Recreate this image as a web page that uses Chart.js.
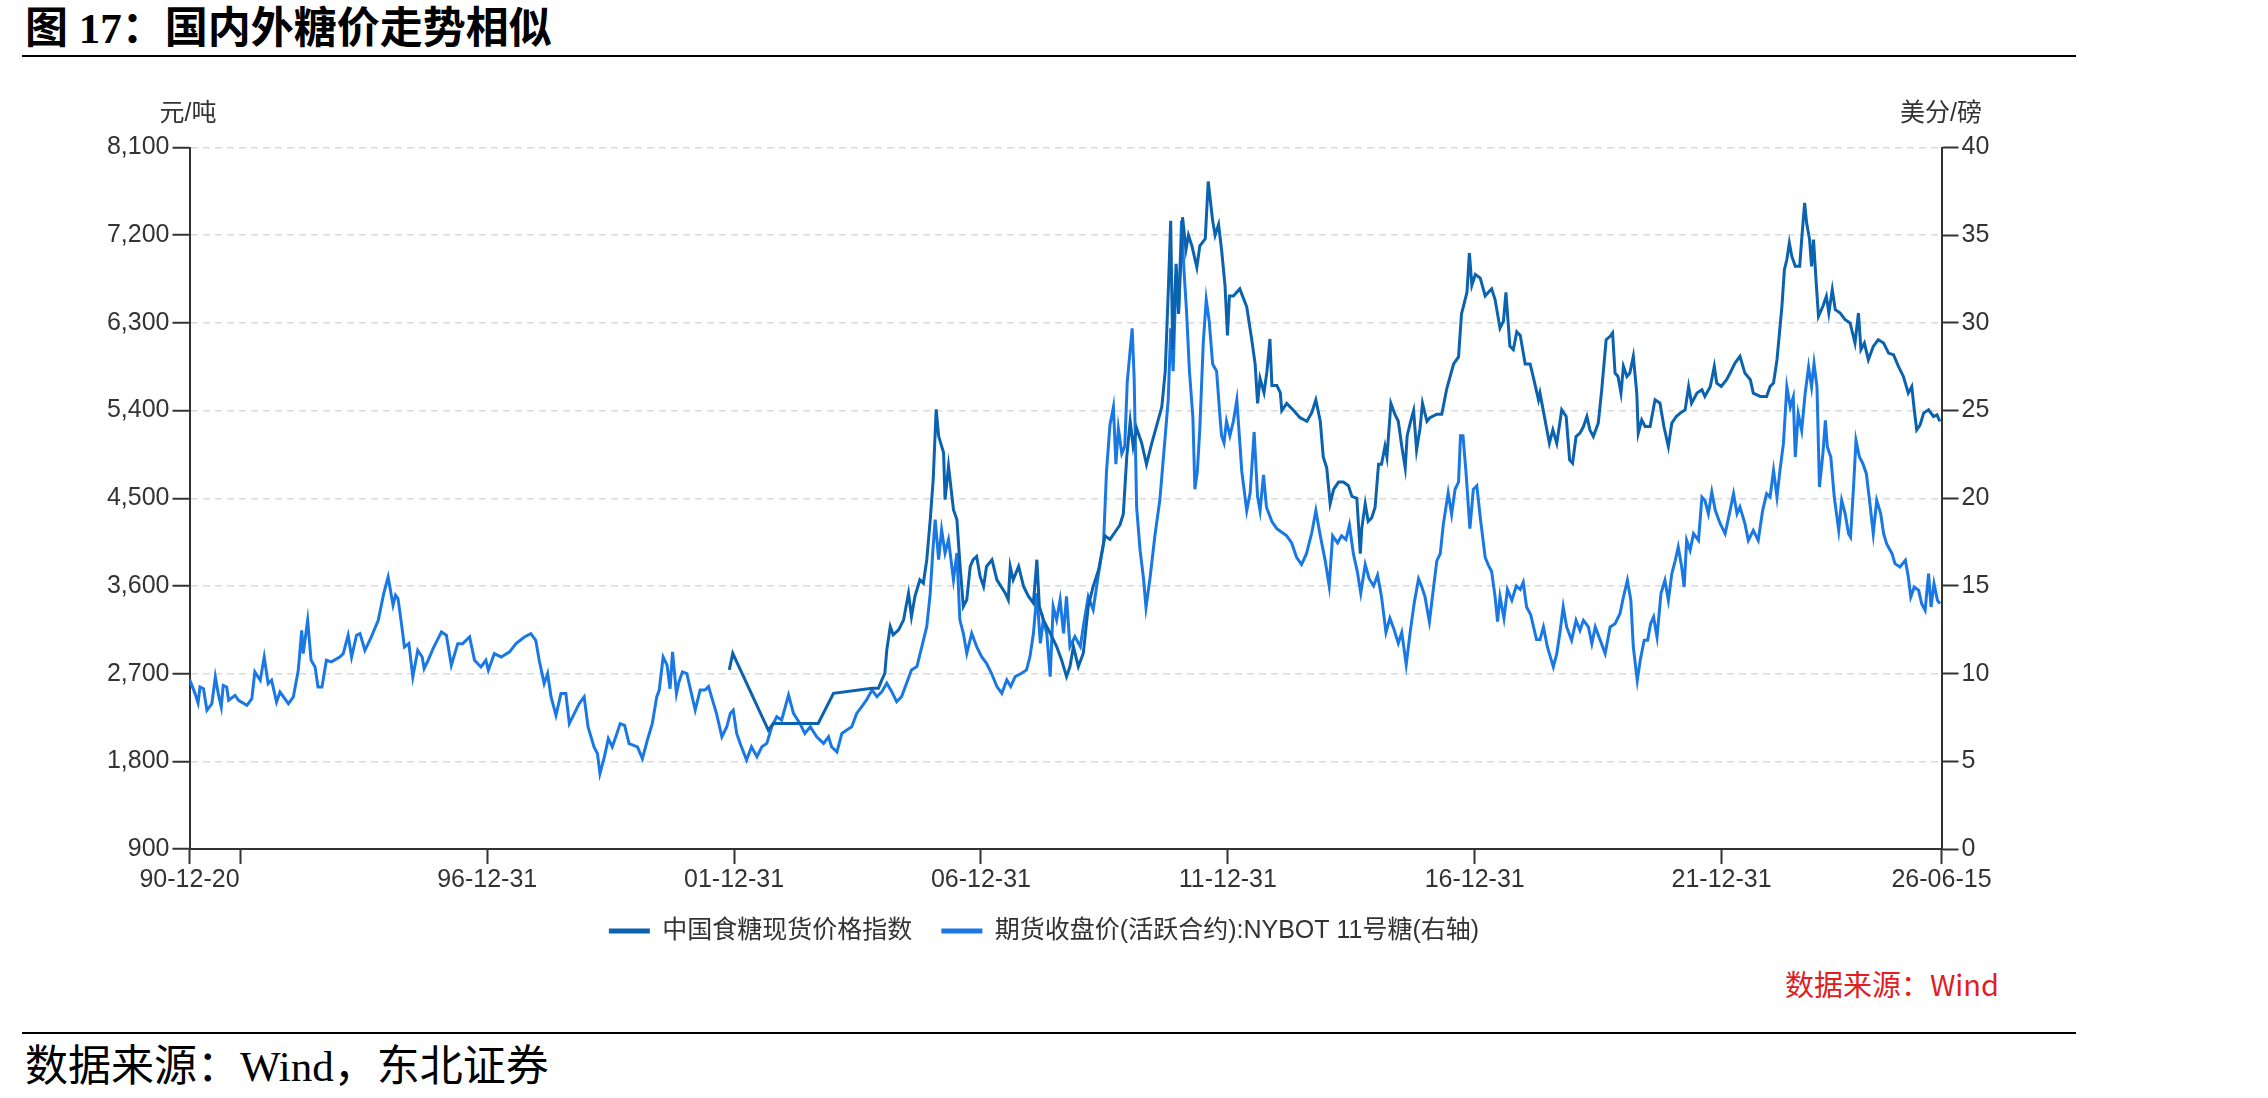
<!DOCTYPE html>
<html>
<head>
<meta charset="utf-8">
<script src="https://cdn.jsdelivr.net/npm/chart.js@4.4.1/dist/chart.umd.min.js"></script>
<style>
html,body{margin:0;padding:0;background:#fff;}
#page{position:relative;width:2268px;height:1098px;overflow:hidden;background:#fff;}
#chartBox{position:absolute;left:0;top:0;width:2268px;height:960px;}
.title{position:absolute;left:25px;top:6px;font-weight:bold;font-size:43px;font-family:"Liberation Serif","Noto Sans CJK SC",serif;color:#000;line-height:46px;white-space:nowrap;}
.rule{position:absolute;left:22px;width:2054px;height:2px;background:#000;}
.foot{position:absolute;left:25px;top:1044px;font-size:43px;font-family:"Liberation Serif","Noto Sans CJK SC",serif;color:#000;line-height:46px;white-space:nowrap;}
.unit{position:absolute;font-size:25px;font-family:"Liberation Sans","Noto Sans CJK SC",sans-serif;color:#333;line-height:30px;transform:translate(-50%,-50%);white-space:nowrap;}
.src{position:absolute;font-size:29px;font-family:"Noto Sans CJK SC",sans-serif;color:#e0201f;line-height:34px;white-space:nowrap;transform:translate(-100%,-50%);}
</style>
</head>
<body>
<div id="page">
  <div class="title">图 17：国内外糖价走势相似</div>
  <div class="rule" style="top:55px"></div>
  <div id="chartBox"><canvas id="c"></canvas></div>
  <div class="unit" style="left:188px;top:112px">元/吨</div>
  <div class="unit" style="left:1941px;top:112px">美分/磅</div>
  <div class="src" style="left:1999px;top:983px">数据来源：Wind</div>
  <div class="rule" style="top:1032px"></div>
  <div class="foot">数据来源：Wind，东北证券</div>
</div>
<script>
// ---- data (x in decimal years) ----
const seriesNames = ['中国食糖现货价格指数', '期货收盘价(活跃合约):NYBOT 11号糖(右轴)'];

const cnYears = [2001.90,2001.97,2002.69,2002.79,2003.70,2004.01,2004.79,2004.92,2004.99,2005.05,2005.09,2005.16,2005.22,2005.33,2005.43,2005.53,2005.59,2005.66,2005.76,2005.83,2005.90,2005.97,2006.03,2006.09,2006.14,2006.24,2006.27,2006.34,2006.44,2006.51,2006.57,2006.64,2006.71,2006.78,2006.84,2006.91,2006.98,2007.05,2007.11,2007.22,2007.32,2007.49,2007.55,2007.59,2007.65,2007.76,2007.86,2007.96,2008.06,2008.13,2008.18,2008.26,2008.40,2008.53,2008.63,2008.73,2008.80,2008.87,2008.97,2009.07,2009.17,2009.27,2009.38,
2009.51,2009.61,2009.71,2009.81,2009.88,2009.95,2010.02,2010.08,2010.15,2010.25,2010.35,2010.46,2010.56,2010.66,2010.73,2010.79,2010.84,2010.88,2010.95,2011.00,2011.08,2011.15,2011.20,2011.27,2011.37,2011.43,2011.54,2011.60,2011.69,2011.74,2011.81,2011.87,2011.94,2011.99,2012.03,2012.11,2012.24,2012.38,2012.48,2012.55,2012.60,2012.65,2012.73,2012.79,2012.85,2012.89,2012.99,2013.06,2013.09,2013.19,2013.33,2013.46,2013.60,2013.70,2013.78,2013.87,2013.93,2014.00,2014.07,2014.14,2014.24,2014.34,2014.44,2014.51,2014.61,2014.68,2014.71,2014.78,2014.84,2014.91,2014.98,2015.05,2015.11,2015.18,2015.22,2015.30,2015.38,2015.45,2015.52,2015.59,2015.63,2015.70,2015.76,2015.82,2015.89,2015.94,2016.03,2016.09,2016.23,2016.33,2016.43,2016.57,2016.67,2016.73,2016.84,2016.89,2016.94,2017.01,2017.11,2017.21,2017.27,2017.34,2017.41,2017.51,2017.58,2017.63,2017.71,2017.78,2017.85,2017.92,2018.02,2018.12,2018.19,2018.29,
2018.32,2018.46,2018.51,2018.58,2018.66,2018.76,2018.85,2018.92,2018.98,2019.05,2019.13,2019.20,2019.27,2019.33,2019.40,2019.50,2019.57,2019.66,2019.74,2019.79,2019.84,2019.90,2019.96,2020.01,2020.08,2020.14,2020.21,2020.28,2020.31,2020.38,2020.45,2020.55,2020.65,2020.75,2020.83,2020.92,2020.99,2021.08,2021.16,2021.26,2021.33,2021.39,2021.50,2021.60,2021.66,2021.77,2021.85,2021.90,2021.99,2022.10,2022.17,2022.27,2022.37,2022.47,2022.58,2022.64,2022.78,2022.91,2022.98,2023.05,2023.12,2023.17,2023.22,2023.27,2023.32,2023.37,2023.42,2023.49,2023.58,2023.62,2023.68,2023.72,2023.78,2023.82,2023.86,2023.91,2023.96,2024.05,2024.12,2024.17,2024.24,2024.30,2024.40,2024.50,2024.60,2024.70,2024.77,2024.82,2024.89,2024.97,2025.07,2025.17,2025.28,2025.38,2025.48,2025.58,2025.68,2025.78,2025.85,2025.90,2025.95,2026.02,2026.09,2026.19,2026.29,2026.36,2026.42];
const cnPrices = [2738,2909,2121,2189,2189,2498,2549,2549,2635,2703,2943,3183,3098,3149,3252,3526,3286,3492,3663,3629,3869,4281,4692,5412,5138,4966,4486,4829,4383,4281,3835,3389,3458,3800,3869,3903,3698,3595,3800,3869,3663,3526,3458,3800,3663,3800,3595,3492,3423,3869,3389,3252,3115,2978,2841,2669,2772,2978,2772,2909,3389,3595,3766,
4115,4078,4151,4225,4335,4923,5290,5033,5217,5070,4849,5070,5253,5437,5804,6612,7347,6025,6906,6392,7384,7053,7200,7090,6869,7090,7163,7751,7347,7200,7310,7053,6686,6172,6576,6576,6649,6465,6135,5878,5474,5731,5584,5804,6135,5657,5657,5584,5400,5474,5400,5327,5290,5382,5510,5290,4923,4812,4445,4592,4666,4666,4629,4519,4500,3931,4188,4445,4262,4298,4408,4849,4849,5033,4923,5474,5363,5290,5033,4812,5143,5290,5400,4996,5217,5474,5290,5327,5363,5363,5621,5878,5951,6392,6612,7016,6686,6796,6759,6576,6612,6649,6539,6245,6318,6612,6061,6025,6208,6172,5878,5878,5731,5510,
5579,5200,5065,5202,5065,5408,5339,4894,4859,5134,5168,5236,5339,5202,5134,5271,5613,6127,6162,6196,5785,5750,5579,5853,5750,5785,5956,5579,5168,5305,5236,5236,5510,5476,5236,5031,5271,5339,5374,5408,5647,5476,5579,5613,5545,5647,5853,5682,5647,5716,5785,5887,5956,5785,5716,5579,5545,5545,5647,5682,5922,6196,6470,6847,6950,7121,6984,6881,6881,7155,7532,7327,7155,6881,7155,6744,6367,6470,6573,6401,6641,6436,6401,6333,6299,6093,6401,6025,6093,5922,6059,6127,6093,5990,5973,5853,5750,5579,5647,5408,5202,5254,5374,5408,5339,5356,5288];

const nyYears = [1990.97,1991.08,1991.14,1991.18,1991.25,1991.32,1991.42,1991.49,1991.55,1991.61,1991.65,1991.72,1991.76,1991.89,1991.96,1992.13,1992.23,1992.29,1992.40,1992.48,1992.56,1992.63,1992.73,1992.80,1992.97,1993.07,1993.17,1993.24,1993.27,1993.36,1993.43,1993.51,1993.57,1993.65,1993.74,1993.84,1994.01,1994.08,1994.18,1994.25,1994.35,1994.42,1994.52,1994.65,1994.72,1994.79,1994.90,1994.99,1995.09,1995.14,1995.19,1995.26,1995.32,1995.41,1995.49,1995.59,1995.68,1995.72,1995.80,1995.90,1996.07,1996.17,1996.27,1996.40,1996.50,1996.64,1996.74,1996.87,1996.97,1997.02,1997.14,1997.28,1997.45,1997.58,1997.75,1997.88,1997.98,1998.05,1998.15,1998.22,1998.29,1998.39,1998.49,1998.59,1998.66,1998.76,1998.86,1998.96,1999.04,1999.16,1999.23,1999.28,1999.37,1999.45,1999.53,1999.60,1999.69,1999.78,1999.87,2000.04,2000.14,2000.24,2000.34,2000.43,2000.48,2000.56,2000.64,2000.70,2000.75,2000.83,2000.88,2000.95,2001.04,
2001.21,2001.31,2001.41,2001.48,2001.58,2001.64,2001.75,2001.85,2001.92,2001.98,2002.05,2002.12,2002.25,2002.35,2002.46,2002.56,2002.66,2002.76,2002.86,2002.96,2003.10,2003.20,2003.33,2003.43,2003.54,2003.67,2003.81,2003.91,2003.97,2004.08,2004.18,2004.28,2004.38,2004.48,2004.58,2004.68,2004.79,2004.89,2004.99,2005.09,2005.19,2005.29,2005.39,2005.49,2005.59,2005.70,2005.80,2005.90,2005.97,2006.02,2006.07,2006.14,2006.20,2006.27,2006.34,2006.44,2006.51,2006.57,2006.64,2006.71,2006.81,2006.91,2007.01,2007.11,2007.21,2007.32,2007.42,2007.52,2007.60,2007.69,2007.82,2007.92,2007.99,2008.06,2008.13,2008.20,2008.26,2008.33,2008.40,2008.46,2008.53,2008.60,2008.67,2008.73,2008.80,2008.90,2009.01,2009.07,2009.17,2009.27,2009.38,
2009.48,2009.54,2009.61,2009.68,2009.73,2009.78,2009.85,2009.91,2009.96,2010.02,2010.06,2010.10,2010.15,2010.22,2010.29,2010.34,2010.42,2010.52,2010.62,2010.73,2010.79,2010.84,2010.89,2010.95,2011.00,2011.06,2011.11,2011.16,2011.22,2011.29,2011.33,2011.38,2011.43,2011.50,2011.56,2011.62,2011.69,2011.77,2011.84,2011.87,2011.92,2011.97,2012.04,2012.11,2012.18,2012.23,2012.28,2012.38,2012.45,2012.53,2012.60,2012.65,2012.72,2012.78,2012.89,2012.99,2013.09,2013.19,2013.29,2013.39,2013.49,2013.59,2013.70,2013.78,2013.87,2013.97,2014.05,2014.12,2014.22,2014.30,2014.39,2014.46,2014.54,2014.62,2014.69,2014.78,2014.86,2014.95,2015.03,2015.11,2015.20,2015.28,2015.36,2015.45,2015.52,2015.61,2015.69,2015.77,2015.86,2015.92,2015.99,2016.08,2016.15,2016.23,2016.30,2016.36,2016.46,2016.53,2016.60,2016.67,2016.71,2016.76,2016.82,2016.90,2016.97,2017.04,2017.12,2017.21,2017.27,2017.34,2017.41,2017.46,2017.51,2017.59,2017.66,2017.75,2017.84,2017.92,2017.98,2018.05,2018.13,2018.25,
2018.32,2018.39,2018.47,2018.59,2018.66,2018.73,2018.79,2018.86,2018.96,2019.05,2019.13,2019.20,2019.30,2019.37,2019.44,2019.54,2019.64,2019.74,2019.84,2019.94,2020.01,2020.09,2020.16,2020.21,2020.29,2020.35,2020.43,2020.50,2020.56,2020.62,2020.69,2020.77,2020.85,2020.92,2020.99,2021.06,2021.12,2021.19,2021.24,2021.29,2021.36,2021.43,2021.53,2021.60,2021.66,2021.73,2021.80,2021.87,2021.97,2022.07,2022.17,2022.24,2022.31,2022.37,2022.47,2022.54,2022.64,2022.74,2022.83,2022.91,2022.98,2023.05,2023.12,2023.18,2023.25,2023.32,2023.39,2023.45,2023.49,2023.55,2023.62,2023.69,2023.76,2023.82,2023.87,2023.93,2023.98,2024.05,2024.10,2024.14,2024.21,2024.28,2024.37,2024.43,2024.50,2024.57,2024.61,2024.67,2024.72,2024.79,2024.86,2024.93,2025.01,2025.07,2025.14,2025.22,2025.28,2025.34,2025.45,2025.51,2025.61,2025.72,2025.78,2025.83,2025.90,2025.99,2026.05,2026.12,2026.19,2026.24,2026.30,2026.37,2026.42];
const nyPrices = [9.66,8.86,8.33,9.24,9.14,7.91,8.29,9.81,8.86,8.10,9.33,9.24,8.48,8.76,8.48,8.19,8.57,10.10,9.62,10.95,9.43,9.62,8.38,8.95,8.29,8.67,10.19,12.47,11.14,13.04,10.76,10.38,9.24,9.24,10.76,10.67,10.95,11.14,12.19,10.95,12.19,12.28,11.33,12.09,12.57,13.04,14.56,15.51,13.90,14.47,14.28,12.85,11.52,11.71,9.81,11.33,10.95,10.29,10.76,11.43,12.38,12.19,10.48,11.71,11.71,12.09,10.76,10.38,10.76,10.19,11.14,10.95,11.24,11.71,12.09,12.28,11.90,10.76,9.43,10.00,8.67,7.62,8.86,8.86,7.15,7.72,8.29,8.67,6.96,5.82,5.44,4.30,5.25,6.29,5.82,6.39,7.15,7.05,6.01,5.82,5.15,6.20,7.15,8.67,9.05,10.95,10.48,9.14,11.24,8.86,9.52,10.10,10.00,
7.92,9.07,9.07,9.26,8.30,7.73,6.40,6.97,7.73,7.92,6.59,6.02,5.07,5.83,5.26,5.83,6.02,6.97,7.54,7.35,8.78,7.73,7.16,6.59,6.97,6.40,6.02,6.40,5.83,5.54,6.59,6.78,6.97,7.73,8.11,8.50,9.07,8.69,8.97,9.45,8.97,8.40,8.69,9.45,10.21,10.40,11.54,12.69,14.59,16.88,18.78,16.50,18.21,16.88,17.64,15.35,16.88,13.07,12.30,11.16,12.30,11.54,10.97,10.59,10.02,9.26,8.88,9.64,9.26,9.83,10.02,10.21,10.97,12.30,14.59,11.73,13.07,12.30,9.83,13.83,13.07,14.21,12.30,14.40,11.54,12.11,11.54,12.69,14.40,13.64,15.73,
17.45,21.53,24.18,25.20,21.94,23.98,22.55,22.96,26.63,28.47,29.69,26.84,19.49,17.04,15.41,13.78,15.41,17.86,19.90,23.57,25.61,29.69,27.24,32.76,30.71,35.82,32.96,30.71,27.24,24.59,20.51,21.53,23.98,28.88,31.33,30.10,27.65,27.24,24.59,23.57,23.16,24.39,23.57,24.39,25.61,23.57,21.53,19.29,20.31,23.78,20.10,19.29,21.33,19.49,18.67,18.27,18.06,17.86,17.45,16.63,16.22,16.84,18.06,19.29,17.86,16.43,15.00,17.86,17.45,17.86,17.65,18.47,16.84,15.82,14.59,16.22,15.41,15.00,15.61,14.39,12.35,13.16,12.55,11.73,12.35,10.51,12.35,13.98,15.41,15.00,14.39,12.96,14.59,16.43,16.84,18.47,20.31,19.08,20.51,20.92,23.57,23.57,21.53,18.27,20.51,20.71,18.67,16.63,16.22,15.82,14.39,12.96,14.39,13.16,14.80,14.18,15.00,14.80,15.20,13.78,13.37,11.94,
11.94,12.66,11.52,10.38,11.14,12.47,13.80,12.66,11.90,13.04,12.47,13.04,12.66,11.71,12.66,11.90,11.14,12.66,12.85,13.42,14.37,15.32,14.18,11.52,9.61,10.76,11.90,11.90,12.85,13.23,12.09,14.56,15.32,14.18,15.70,16.46,17.22,16.08,14.94,17.60,17.03,17.98,17.60,20.07,19.88,19.12,20.36,19.31,18.55,17.98,19.31,20.26,19.12,19.50,18.55,17.60,18.17,17.60,19.31,20.26,20.07,21.59,20.07,21.59,23.11,26.35,25.20,25.77,22.35,24.82,23.87,25.96,27.49,26.35,27.68,26.35,20.64,22.54,24.44,22.92,22.35,20.07,18.17,19.88,19.12,17.98,17.79,20.64,23.30,22.35,21.97,21.40,19.50,17.98,19.88,19.12,17.98,17.41,16.84,16.27,16.08,16.46,15.51,14.37,14.94,14.75,13.99,13.61,15.70,13.80,15.13,14.18,13.99];

const xTickYears = [1990.967, 1991.997, 1996.997, 2001.997, 2006.997, 2011.997, 2016.997, 2021.997, 2026.452];
const xTickLabels = ['90-12-20', '', '96-12-31', '01-12-31', '06-12-31', '11-12-31', '16-12-31', '21-12-31', '26-06-15'];
const leftTicks = [900, 1800, 2700, 3600, 4500, 5400, 6300, 7200, 8100];
const rightTicks = [0, 5, 10, 15, 20, 25, 30, 35, 40];

// ---- build ----
const FONT = "'Liberation Sans','Noto Sans CJK SC',sans-serif";
const toPoints = (xs, ys) => xs.slice(0, Math.min(xs.length, ys.length)).map((x, i) => ({x: x, y: ys[i]}));
const darkBlue = '#0b62ae';
const brightBlue = '#1a78e4';

new Chart(document.getElementById('c'), {
  type: 'line',
  data: {
    datasets: [
      {label: seriesNames[0], data: toPoints(cnYears, cnPrices), yAxisID: 'y', borderColor: darkBlue, backgroundColor: darkBlue, borderWidth: 3, pointRadius: 0, tension: 0},
      {label: seriesNames[1], data: toPoints(nyYears, nyPrices), yAxisID: 'y1', borderColor: brightBlue, backgroundColor: brightBlue, borderWidth: 3, pointRadius: 0, tension: 0}
    ]
  },
  options: {
    responsive: true,
    maintainAspectRatio: false,
    animation: false,
    devicePixelRatio: 1,
    layout: {padding: {top: 147.5, left: 0, right: 180, bottom: 6.5}},
    plugins: {
      tooltip: {enabled: false},
      legend: {
        position: 'bottom',
        labels: {
          font: {family: FONT, size: 25},
          color: '#333',
          boxWidth: 41,
          boxHeight: 5,
          padding: 29,
          generateLabels: (chart) => Chart.defaults.plugins.legend.labels.generateLabels(chart).map(l => Object.assign(l, {lineWidth: 0}))
        }
      }
    },
    scales: {
      x: {
        type: 'linear',
        min: xTickYears[0],
        max: xTickYears[xTickYears.length - 1],
        afterBuildTicks: (s) => { s.ticks = xTickYears.map(v => ({value: v})); },
        afterFit: (s) => { s.height = 40.5; },
        ticks: {autoSkip: false, maxRotation: 0, minRotation: 0, padding: 1, color: '#333', font: {family: FONT, size: 25},
          callback: (v, i) => xTickLabels[i]},
        grid: {drawOnChartArea: false, drawTicks: true, tickLength: 15, tickColor: '#333', tickWidth: 2, color: '#333'},
        border: {color: '#333', width: 2}
      },
      y: {
        type: 'linear',
        position: 'left',
        min: leftTicks[0],
        max: leftTicks[leftTicks.length - 1],
        afterBuildTicks: (s) => { s.ticks = leftTicks.map(v => ({value: v})); },
        afterFit: (s) => { s.width = 189.5; },
        ticks: {color: '#333', padding: 3, font: {family: FONT, size: 25}, callback: (v) => Number(v).toLocaleString('en-US')},
        grid: {color: '#dadada', lineWidth: 1.5, tickColor: '#333', tickLength: 17, tickWidth: 2, drawOnChartArea: true},
        border: {color: '#333', width: 2, dash: [7, 5]}
      },
      y1: {
        type: 'linear',
        position: 'right',
        min: rightTicks[0],
        max: rightTicks[rightTicks.length - 1],
        afterBuildTicks: (s) => { s.ticks = rightTicks.map(v => ({value: v})); },
        afterFit: (s) => { s.width = 2268 - 180 - 1941.5; },
        ticks: {color: '#333', padding: 3, font: {family: FONT, size: 25}},
        grid: {drawOnChartArea: false, tickColor: '#333', tickLength: 17, tickWidth: 2, color: '#333'},
        border: {color: '#333', width: 2}
      }
    }
  }
});
</script>
</body>
</html>
